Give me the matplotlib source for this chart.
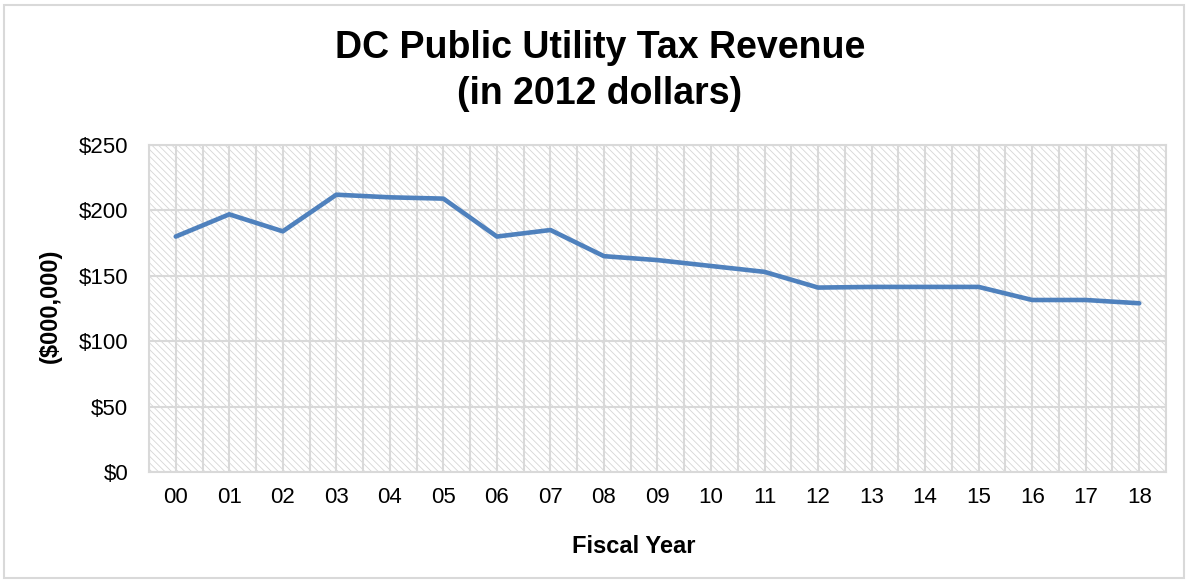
import matplotlib
matplotlib.use("Agg")
import matplotlib.pyplot as plt
from matplotlib.patches import Rectangle
from matplotlib.ticker import FixedLocator

# Data
years = ["00", "01", "02", "03", "04", "05", "06", "07", "08", "09",
         "10", "11", "12", "13", "14", "15", "16", "17", "18"]
revenue = [180, 197, 184, 212, 210, 209, 180, 185, 165, 162,
           157.5, 153, 141, 141.5, 141.5, 141.5, 131.5, 131.5, 129]
y_ticks = [0, 50, 100, 150, 200, 250]
y_labels = ["$0", "$50", "$100", "$150", "$200", "$250"]

plt.rcParams["font.family"] = ["Liberation Sans", "DejaVu Sans"]
plt.rcParams["hatch.linewidth"] = 0.6

fig = plt.figure(figsize=(11.88, 5.8), dpi=100)
ax = fig.add_axes([0.1254, 0.1862, 0.8561, 0.5638])

# outer frame of the chart
fig.patches.append(Rectangle((0.003, 0.003), 0.994, 0.988, transform=fig.transFigure,
                             fill=False, edgecolor="#d9d9d9", linewidth=1.5))

# hatched plot area background
ax.add_patch(Rectangle((0, 0), 1, 1, transform=ax.transAxes, facecolor="white",
                       edgecolor="#d6d6d6", linewidth=0, hatch="\\\\\\\\\\", zorder=0))

x = list(range(len(years)))
ax.plot(x, revenue, color="#4f81bd", linewidth=3.3, solid_capstyle="round",
        solid_joinstyle="round", zorder=3)

ax.set_xlim(-0.5, len(years) - 0.5)
ax.set_ylim(0, 250)
ax.set_xticks(x)
ax.set_xticklabels(years)
ax.xaxis.set_minor_locator(FixedLocator([i - 0.5 for i in range(len(years) + 1)]))
ax.set_yticks(y_ticks)
ax.set_yticklabels(y_labels)

ax.grid(True, which="both", axis="x", color="#d9d9d9", linewidth=1.5, zorder=1)
ax.grid(True, which="major", axis="y", color="#d9d9d9", linewidth=1.5, zorder=1)
ax.set_axisbelow(True)
ax.tick_params(axis="both", which="both", length=0, labelsize=16)
ax.tick_params(axis="x", pad=11)
ax.tick_params(axis="y", pad=15)
for s in ax.spines.values():
    s.set_color("#d9d9d9")
    s.set_linewidth(1.5)

fig.text(0.5337, 0.0569, "Fiscal Year", ha="center", va="center",
         fontsize=17, fontweight="bold")
fig.text(0.042, 0.4724, "($000,000)", ha="center", va="center", rotation=90,
         fontsize=17, fontweight="bold")
fig.text(0.505, 0.877, "DC Public Utility Tax Revenue\n(in 2012 dollars)",
         ha="center", va="center", fontsize=27, fontweight="bold", linespacing=1.35)

fig.savefig("out.png", dpi=100)
